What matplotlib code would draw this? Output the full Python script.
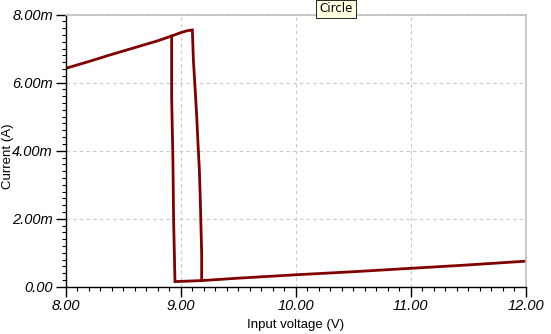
import numpy as np
import matplotlib.pyplot as plt
from matplotlib.ticker import MultipleLocator, FuncFormatter

# upper branch: forward sweep, then the fall to the low state
up_v = [8.00, 8.20, 8.40, 8.60, 8.80, 8.92, 9.00, 9.06, 9.103,
        9.112, 9.126, 9.141, 9.152, 9.164, 9.172, 9.178, 9.184, 9.184]
up_i = [6.42, 6.62, 6.83, 7.03, 7.23, 7.37, 7.47, 7.53, 7.55,
        6.67, 5.89, 5.01, 4.22, 3.44, 2.60, 1.76, 0.98, 0.18]

# low branch: from 12 V back down, then the jump up at ~8.9 V
low_v = [12.00, 11.50, 11.00, 10.50, 10.00, 9.50, 9.184, 8.952,
         8.940, 8.934, 8.923, 8.923]
low_i = [0.75, 0.64, 0.54, 0.44, 0.35, 0.25, 0.18, 0.15,
         1.96, 3.73, 5.59, 7.37]

x_ticks = [8.0, 9.0, 10.0, 11.0, 12.0]
y_ticks = [0.0, 2.0, 4.0, 6.0, 8.0]

W, H = 551, 334
fig = plt.figure(figsize=(W / 100, H / 100), dpi=100)
ax = fig.add_axes([65.5 / W, 47.3 / H, 460 / W, 272 / H])

line_col = '#800000'
ax.plot(up_v, np.array(up_i) * 1e-3, color=line_col, lw=2.0, solid_joinstyle='miter')
ax.plot(low_v, np.array(low_i) * 1e-3, color=line_col, lw=2.0, solid_joinstyle='miter')

ax.set_xlim(8, 12)
ax.set_ylim(0, 8e-3)
ax.set_xticks(x_ticks)
ax.set_yticks(np.array(y_ticks) * 1e-3)
ax.xaxis.set_minor_locator(MultipleLocator(0.1))
ax.yaxis.set_minor_locator(MultipleLocator(0.2e-3))
ax.xaxis.set_major_formatter(FuncFormatter(lambda v, p: f'{v:.2f}'))
ax.yaxis.set_major_formatter(FuncFormatter(lambda v, p: '0.00' if v == 0 else f'{v * 1e3:.2f}m'))

ax.grid(True, which='major', color='#c8c8c8', ls=(0, (3, 3)), lw=0.8)
ax.set_axisbelow(True)

for s in ['top', 'right']:
    ax.spines[s].set_color('#c0c0c0')
    ax.spines[s].set_linewidth(1.2)
for s in ['left', 'bottom']:
    ax.spines[s].set_color('black')
    ax.spines[s].set_linewidth(1.0)

ax.tick_params(which='major', direction='out', length=7, width=1, colors='black',
               labelsize=10.5, pad=2)
ax.tick_params(which='minor', direction='out', length=3, width=0.8, colors='black')
for lab in ax.get_xticklabels() + ax.get_yticklabels():
    lab.set_fontstyle('italic')
    lab.set_family('Liberation Sans')

ax.set_xlabel('Input voltage (V)', fontsize=9.5, family='Liberation Sans')
ax.set_ylabel('Current (A)', fontsize=9.5, family='Liberation Sans')
ax.xaxis.set_label_coords(0.5, -(325 - 286.7) / 272, transform=ax.transAxes)
ax.yaxis.set_label_coords((8 - 65.5) / 460, 0.48)
ax.xaxis.label.set_va('center')
ax.yaxis.label.set_va('center')

# tooltip box at the top
fig.text(336 / W, 1 - 9 / H, 'Circle', ha='center', va='center', fontsize=8.5,
         family='DejaVu Sans',
         bbox=dict(boxstyle='square,pad=0.25', fc='#ffffe1', ec='black', lw=0.6))

fig.savefig('out.png', dpi=100)
